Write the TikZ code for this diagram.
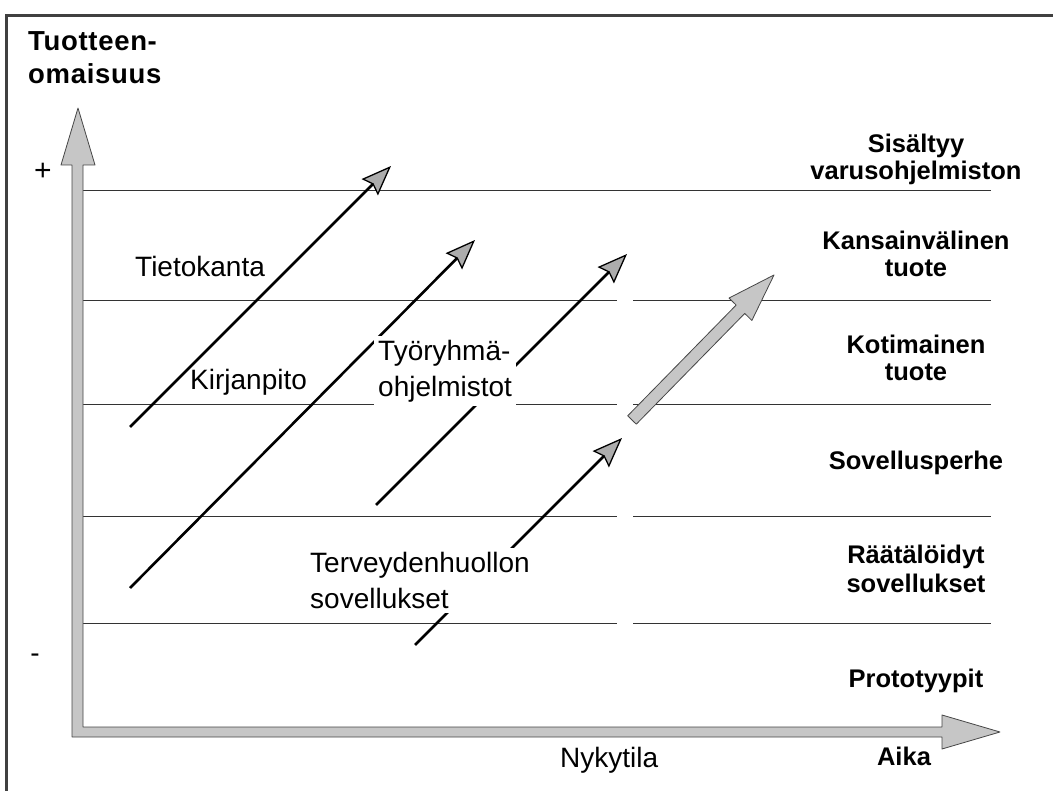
\documentclass[tikz,border=0pt]{standalone}
\usepackage{fontspec}
\setmainfont{Liberation Sans}
\usetikzlibrary{arrows.meta}
\begin{document}
\begin{tikzpicture}[x=1pt,y=-1pt,
  frame/.style={draw=black!75, line width=3pt},
  level/.style={draw=black!80, line width=1pt},
  band/.style={fill=gray!45, draw=gray!55!black, line width=0.8pt, line join=round},
  trend/.style={draw=black, line width=2.6pt,
    -{Stealth[length=30pt,width=23pt,inset=4pt,fill=gray!65,line width=1.3pt]}},
  levellabel/.style={font=\fontsize{25.5}{27.5}\selectfont\bfseries, inner sep=0pt, anchor=base},
  itemlabel/.style={font=\fontsize{28}{36.5}\selectfont, inner sep=0pt, anchor=base west},
  masklabel/.style={font=\fontsize{28}{36.5}\selectfont, align=left, fill=white,
    inner xsep=4pt, inner ysep=4pt, anchor=north west},
  titlelabel/.style={font=\fontsize{27.5}{33}\selectfont\bfseries\addfontfeature{LetterSpace=2.5}, inner sep=0pt, anchor=base west},
]
\useasboundingbox (0,0) rectangle (1053,791);

% outer frame (left and top edges)
\coordinate (fbl) at (6.5,791);
\coordinate (ftl) at (6.5,15.5);
\coordinate (ftr) at (1053,15.5);
\draw[frame] (fbl) -- (ftl) -- (ftr);

% level lines
\draw[level] (83,191) -- (991,191);
\foreach \yy in {301,405,517,623}{
  \draw[level] (83,\yy) -- (617,\yy);
  \draw[level] (633,\yy) -- (991,\yy);
}

% development trajectories
\coordinate (t1s) at (130,427);  \coordinate (t1e) at (391,166);
\coordinate (t2s) at (130,588);  \coordinate (t2e) at (475,240);
\coordinate (t3s) at (376,505);  \coordinate (t3e) at (627,254);
\coordinate (t4s) at (415,645);  \coordinate (t4e) at (622,438);
\draw[trend] (t1s) -- (t1e);
\draw[trend] (t2s) -- (t2e);
\draw[trend] (t3s) -- (t3e);
\draw[trend] (t4s) -- (t4e);

% future direction (grey block arrow)
\begin{scope}[shift={(632,420)}, rotate=45.6]
  \draw[band] (0,-6) -- (155,-6) -- (155,-16) -- (203,0) -- (155,16) -- (155,6) -- (0,6) -- cycle;
\end{scope}

% labels on the trajectories
\node[itemlabel] (tieto) at (135,277) {Tietokanta};
\node[itemlabel] (kirja) at (190,390) {Kirjanpito};
\node[masklabel] (tyo) at (374,335.6) {Työryhmä-\\ohjelmistot};
\node[masklabel] (terv) at (306,547.6) {Terveydenhuollon\\sovellukset};

% axes
\draw[band] (72,737) -- (72,165) -- (61,165) -- (78,108) -- (95,165) -- (83,165)
  -- (83,727) -- (942,727) -- (942,715) -- (1000,732) -- (942,749) -- (942,737) -- cycle;

% axis titles and marks
\node[titlelabel] (yt1) at (28,51) {Tuotteen-};
\node[titlelabel] (yt2) at (28,84) {omaisuus};
\node[font=\fontsize{30}{30}\selectfont, inner sep=0pt] (plus) at (43,172) {+};
\node[font=\fontsize{28}{28}\selectfont, inner sep=0pt] (minus) at (35,658) {-};
\node[levellabel] (aika) at (904,765) {Aika};
\node[itemlabel] (nyky) at (560,767) {Nykytila};

% level names
\node[levellabel] (l1a) at (916,153) {Sisältyy};
\node[levellabel] (l1b) at (916,180) {varusohjelmiston};
\node[levellabel] (l2a) at (916,250) {Kansainvälinen};
\node[levellabel] (l2b) at (916,277) {tuote};
\node[levellabel] (l3a) at (916,354) {Kotimainen};
\node[levellabel] (l3b) at (916,381) {tuote};
\node[levellabel] (l4) at (916,470) {Sovellusperhe};
\node[levellabel] (l5a) at (916,563) {Räätälöidyt};
\node[levellabel] (l5b) at (916,592) {sovellukset};
\node[levellabel] (l6) at (916,687) {Prototyypit};
\end{tikzpicture}
\end{document}
